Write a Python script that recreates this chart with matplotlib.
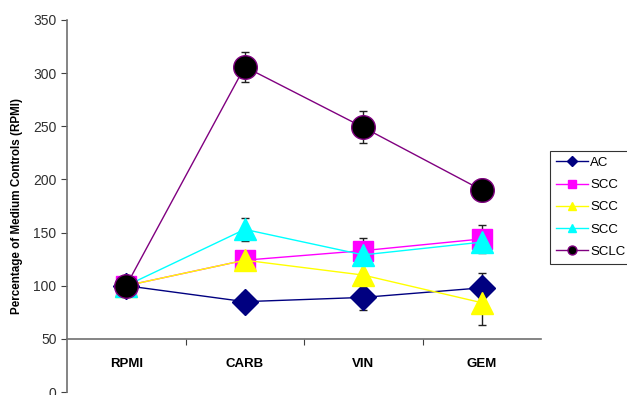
import numpy as np
import matplotlib
matplotlib.use("Agg")
import matplotlib.pyplot as plt

plt.rcParams['font.family'] = ['Liberation Sans', 'DejaVu Sans']

# treatments and responses (% of RPMI medium controls)
treatments = ["RPMI", "CARB", "VIN", "GEM"]
series_names = ["AC", "SCC", "SCC", "SCC", "SCLC"]
ac = [100, 85, 89, 98]
scc_1 = [100, 124, 133, 144]
scc_2 = [100, 124, 110, 84]
scc_3 = [100, 153, 129, 141]
sclc = [100, 306, 249, 190]
ac_err = [0, 8, 12, 14]
scc_1_err = [0, 0, 12, 13]
scc_2_err = [0, 0, 0, 21]
scc_3_err = [0, 11, 0, 0]
sclc_err = [0, 14, 15, 10]

values = [ac, scc_1, scc_2, scc_3, sclc]
errors = [ac_err, scc_1_err, scc_2_err, scc_3_err, sclc_err]
line_colors = ["#000080", "#FF00FF", "#FFFF00", "#00FFFF", "#800080"]
face_colors = ["#000080", "#FF00FF", "#FFFF00", "#00FFFF", "#000000"]
markers = ["D", "s", "^", "^", "o"]
sizes = [13, 15, 16, 16, 17]

fig = plt.figure(figsize=(6.27, 3.95), dpi=100)
ax = fig.add_axes([67 / 627, 3 / 395, 474 / 627, 372 / 395])

x = np.arange(1, len(treatments) + 1)
for vals, errs, lc, fc, mk, ms, name in zip(values, errors, line_colors,
                                           face_colors, markers, sizes, series_names):
    ax.errorbar(x, vals, yerr=errs, fmt='none', ecolor='#202020',
                elinewidth=1, capsize=3, capthick=1, zorder=2)
    ax.plot(x, vals, color=lc, lw=1, marker=mk, markersize=ms,
            markerfacecolor=fc, markeredgecolor=lc if mk == "o" else fc,
            markeredgewidth=1, label=name, zorder=3)

ax.set_xlim(0.5, 4.5)
ax.set_ylim(0, 350)
ax.set_yticks(range(0, 351, 50))

# category axis crosses at 50
ax.spines['top'].set_visible(False)
ax.spines['right'].set_visible(False)
ax.spines['bottom'].set_position(('data', 50))
for s in ('left', 'bottom'):
    ax.spines[s].set_color('#707070')
    ax.spines[s].set_linewidth(1.2)

ax.set_xticks([1.5, 2.5, 3.5])
ax.set_xticklabels([])
ax.set_xticks(x, minor=True)
ax.set_xticklabels(treatments, minor=True, fontweight='bold', fontsize=9.5)
ax.tick_params(axis='x', which='major', direction='out', length=4, color='#404040')
ax.tick_params(axis='x', which='minor', length=0, pad=14)
ax.tick_params(axis='y', direction='out', length=4, color='#404040',
               labelsize=10, labelcolor='#303030')

ax.set_ylabel("Percentage of Medium Controls (RPMI)", fontsize=8.4,
              fontweight='bold', labelpad=7)

leg = ax.legend(loc='upper left', bbox_to_anchor=(1.02, 0.648), fontsize=9.5,
                markerscale=0.38, frameon=True, fancybox=False, borderaxespad=0,
                handlelength=2.4, handletextpad=0.15, labelspacing=0.75,
                borderpad=0.45)
leg.get_frame().set_edgecolor('black')
leg.get_frame().set_linewidth(0.8)

fig.savefig("out.png", dpi=100)
